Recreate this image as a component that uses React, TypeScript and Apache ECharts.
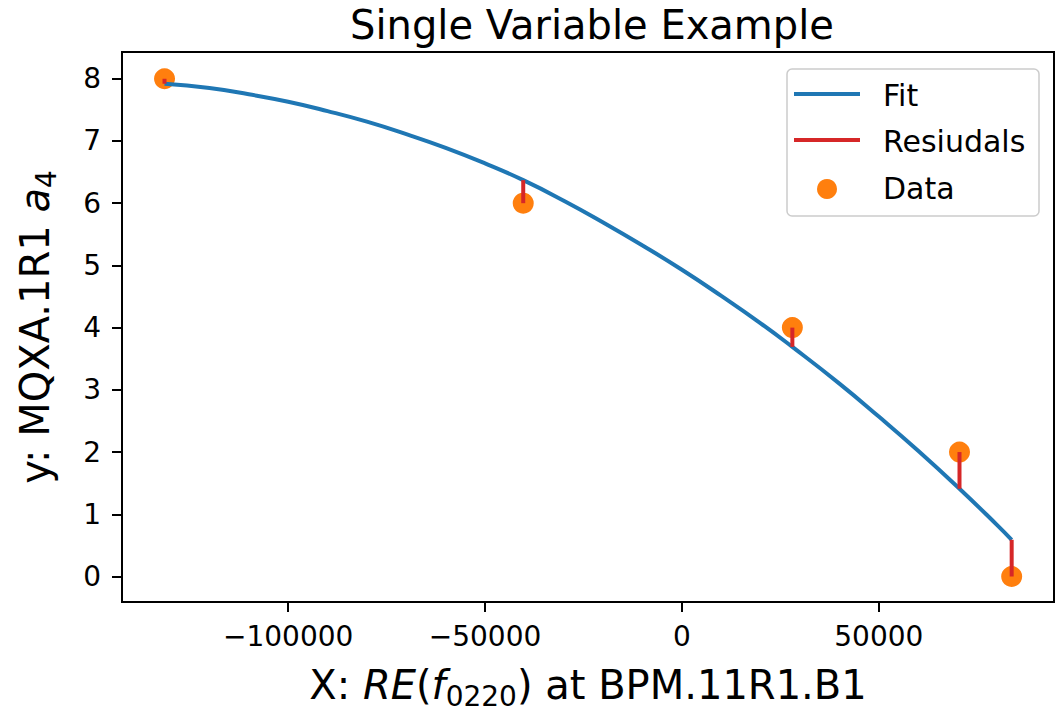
import React, { useEffect, useRef } from "react";
import * as echarts from "echarts";

const dataX = [-131400, -40300, 28050, 70500, 83750];
const dataY = [8, 6, 4, 2, 0];
const fitAtData = [7.92, 6.37, 3.69, 1.41, 0.59];

const fitX = [-131400, -120000, -110000, -100000, -90000, -80000, -70000, -60000, -50000, -40300, -30000, -20000, -10000, 0, 10000, 20000, 28050, 40000, 50000, 60000, 70500, 80000, 83750];
const fitY = [7.92, 7.85, 7.75, 7.63, 7.48, 7.31, 7.11, 6.89, 6.64, 6.37, 6.04, 5.69, 5.32, 4.93, 4.51, 4.07, 3.69, 3.10, 2.57, 2.02, 1.41, 0.83, 0.59];

const xTicks = [-100000, -50000, 0, 50000];
const yTicks = [0, 1, 2, 3, 4, 5, 6, 7, 8];

const legendNames = ["Fit", "Resiudals", "Data"];

const FONT = "DejaVu Sans";
const BLUE = "#1f77b4";
const ORANGE = "#ff7f0e";
const RED = "#d62728";

export default function App() {
  const ref = useRef<HTMLDivElement>(null);
  useEffect(() => {
    if (!ref.current) return;
    const chart = echarts.init(ref.current, null, { renderer: "svg" });
    const fmt = (v: number) => (v < 0 ? "\u2212" + Math.abs(v) : String(v));
    const richName = {
      n: { fontFamily: FONT, fontSize: 40, color: "#000" },
      i: { fontFamily: FONT, fontSize: 40, fontStyle: "italic", color: "#000" },
      s: { fontFamily: FONT, fontSize: 28, color: "#000", padding: [22, 0, 0, 0] },
    };
    const legendText = (t: string, y: number) => ({
      type: "text",
      x: 883,
      y,
      z: 102,
      style: {
        text: t,
        fontFamily: FONT,
        fontSize: 30,
        fill: "#000",
        align: "left",
        verticalAlign: "middle",
      },
    });
    const option: any = {
      animation: false,
      backgroundColor: "#fff",
      textStyle: { fontFamily: FONT },
      title: {
        text: "Single Variable Example",
        left: 587,
        textAlign: "center",
        top: 0,
        textStyle: { fontFamily: FONT, fontSize: 40, fontWeight: "normal", color: "#000" },
      },
      grid: {
        left: 122,
        right: 2,
        top: 52,
        bottom: 108,
        show: true,
        borderColor: "#000",
        borderWidth: 2,
        backgroundColor: "transparent",
      },
      xAxis: {
        type: "value",
        min: -142200,
        max: 94500,
        axisLine: { show: false, onZero: false },
        splitLine: { show: false },
        axisTick: { show: true, length: 10, customValues: xTicks, lineStyle: { color: "#000", width: 2 } },
        axisLabel: {
          customValues: xTicks,
          formatter: fmt,
          margin: 20,
          fontFamily: FONT,
          fontSize: 28,
          color: "#000",
        },
        name: "{n|X: }{i|RE}{n|(}{i|f}{s|0220}{n|) at BPM.11R1.B1}",
        nameLocation: "middle",
        nameGap: 58,
        nameTextStyle: { fontFamily: FONT, fontSize: 40, color: "#000", rich: richName },
      },
      yAxis: {
        type: "value",
        min: -0.41,
        max: 8.43,
        axisLine: { show: false, onZero: false },
        splitLine: { show: false },
        axisTick: { show: true, length: 10, customValues: yTicks, lineStyle: { color: "#000", width: 2 } },
        axisLabel: {
          customValues: yTicks,
          formatter: fmt,
          margin: 21,
          fontFamily: FONT,
          fontSize: 28,
          color: "#000",
        },
        name: "{n|y: MQXA.1R1 }{i|a}{s|4}",
        nameLocation: "middle",
        nameRotate: 90,
        nameGap: 62,
        nameTextStyle: { fontFamily: FONT, fontSize: 40, color: "#000", rich: richName },
      },
      graphic: [
        {
          type: "rect",
          z: 100,
          shape: { x: 787, y: 69, width: 252, height: 147, r: 5 },
          style: { fill: "rgba(255,255,255,0.8)", stroke: "#cccccc", lineWidth: 1.5 },
        },
        {
          type: "line",
          z: 101,
          shape: { x1: 794, y1: 94, x2: 860, y2: 94 },
          style: { stroke: BLUE, lineWidth: 4 },
        },
        {
          type: "line",
          z: 101,
          shape: { x1: 794, y1: 140, x2: 860, y2: 140 },
          style: { stroke: RED, lineWidth: 4 },
        },
        {
          type: "circle",
          z: 101,
          shape: { cx: 827, cy: 189, r: 10 },
          style: { fill: ORANGE },
        },
        legendText(legendNames[0], 95),
        legendText(legendNames[1], 141),
        legendText(legendNames[2], 188),
      ],
      series: [
        {
          name: "Data",
          type: "scatter",
          z: 2,
          symbol: "circle",
          symbolSize: 21,
          itemStyle: { color: ORANGE, opacity: 1 },
          data: dataX.map((x, i) => [x, dataY[i]]),
        },
        {
          name: "Fit",
          type: "line",
          z: 3,
          color: BLUE,
          showSymbol: false,
          symbol: "none",
          smooth: true,
          lineStyle: { color: BLUE, width: 4 },
          itemStyle: { color: BLUE },
          data: fitX.map((x, i) => [x, fitY[i]]),
        },
        {
          name: "Resiudals",
          type: "custom",
          z: 4,
          itemStyle: { color: RED },
          encode: { x: 0, y: [1, 2] },
          renderItem: (params: any, api: any) => {
            const p1 = api.coord([api.value(0), api.value(1)]);
            const p2 = api.coord([api.value(0), api.value(2)]);
            return {
              type: "line",
              shape: { x1: p1[0], y1: p1[1], x2: p2[0], y2: p2[1] },
              style: { stroke: RED, lineWidth: 4 },
            };
          },
          data: dataX.map((x, i) => [x, dataY[i], fitAtData[i]]),
        },
      ],
    };
    chart.setOption(option);
    return () => chart.dispose();
  }, []);
  return (
    <div
      ref={ref}
      style={{ position: "absolute", left: 0, top: 0, width: 1056, height: 715 }}
    />
  );
}
